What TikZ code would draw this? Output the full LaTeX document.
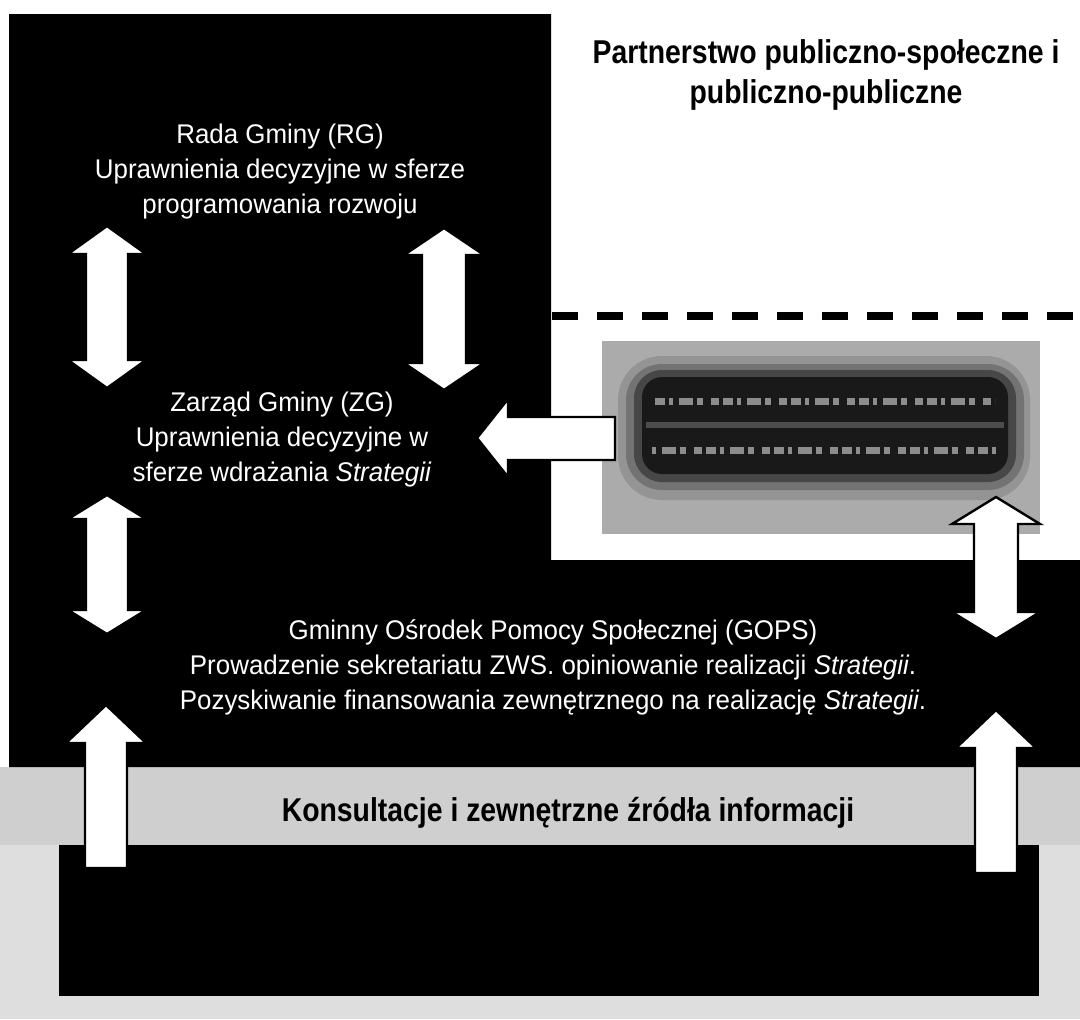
\documentclass[tikz,border=0pt]{standalone}
\usepackage{fontspec}
\setmainfont{Liberation Sans}
\newfontfamily\bodyfont[FakeStretch=0.96]{Liberation Sans}
\newfontfamily\headfont[FakeStretch=0.86]{Liberation Sans}

% vertical double block arrow: xc, ytop, ybot, head half-width, shaft half-width, head length
\newcommand\dblarrowV[6]{%
  \path[blockarrow] (#1,#2) -- ({#1+#4},{#2+#6}) -- ({#1+#5},{#2+#6}) -- ({#1+#5},{#3-#6})
    -- ({#1+#4},{#3-#6}) -- (#1,#3) -- ({#1-#4},{#3-#6}) -- ({#1-#5},{#3-#6})
    -- ({#1-#5},{#2+#6}) -- ({#1-#4},{#2+#6}) -- cycle;}
% upward block arrow: xc, ytip, ybottom, head half-width, shaft half-width, head length
\newcommand\upArrowV[6]{%
  \path[blockarrow] (#1,#2) -- ({#1+#4},{#2+#6}) -- ({#1+#5},{#2+#6}) -- ({#1+#5},#3)
    -- ({#1-#5},#3) -- ({#1-#5},{#2+#6}) -- ({#1-#4},{#2+#6}) -- cycle;}

\begin{document}
\begin{tikzpicture}[x=0.5pt,y=-0.5pt,
  bodytext/.style={text=white, align=center, inner sep=0pt,
    font=\bodyfont\fontsize{13.5}{17.5}\selectfont},
  headtext/.style={text=black, align=center, inner sep=0pt,
    font=\headfont\bfseries\fontsize{16.5}{20}\selectfont},
  blockarrow/.style={fill=white, draw=black, line width=1.2pt, line join=miter},
  darkfill/.style={fill=black},
  smudge/.style={draw=black!45, line width=3.5pt,
    dash pattern=on 5pt off 2pt on 2pt off 3pt on 7pt off 2pt on 3pt off 4pt on 4pt off 2pt},
]
\useasboundingbox (0,0) rectangle (1080,1019);
\fill[white] (0,0) rectangle (1080,1019);

% bottom scanned grey area and band
\fill[black!13] (0,767) rectangle (1080,1019);
\fill[black!19] (0,767) rectangle (1080,845);

% main black region
\path[darkfill] (9,14) -- (551,14) -- (551,560) -- (1080,560) -- (1080,767) -- (9,767) -- cycle;

% bottom black box
\path[darkfill] (59,845) rectangle (1039,996);

% grey box with blurred (illegible) text
\fill[black!33] (602,341) rectangle (1040,534);
\fill[black!42, rounded corners=22] (618,356) rectangle (1030,500);
\fill[black!55, rounded corners=18] (626,364) rectangle (1024,490);
\fill[black!72, rounded corners=14] (634,370) rectangle (1016,482);
\fill[black!90, rounded corners=10] (642,377) rectangle (1008,474);
\draw[smudge] (655,401) -- (995,401);
\draw[smudge, dash phase=6pt] (650,450) -- (1000,450);
\fill[black!70] (646,422) rectangle (1004,428);

% dashed separator
\draw[line width=4pt, dash pattern=on 13pt off 9.5pt] (552,316) -- (1080,316);

% block arrows
\dblarrowV{107}{226}{388}{39}{21}{28}
\dblarrowV{444}{228}{390}{40}{22}{27}
\dblarrowV{107}{495}{634}{39}{21}{24}
\dblarrowV{996}{497}{639}{44}{22}{27}
\upArrowV{106}{705}{868}{40}{21}{38}
\upArrowV{996}{710}{873}{40}{21}{38}
\path[blockarrow] (477,438) -- (508,399) -- (508,417) -- (615,417) -- (615,460)
  -- (508,460) -- (508,477) -- cycle;

% texts
\node[headtext] (title) at (826,75) {Partnerstwo publiczno-społeczne i\\publiczno-publiczne};
\node[bodytext] (rg) at (280,172) {Rada Gminy (RG)\\Uprawnienia decyzyjne w sferze\\programowania rozwoju};
\node[bodytext] (zg) at (282,440) {Zarząd Gminy (ZG)\\Uprawnienia decyzyjne w\\sferze wdrażania \textit{Strategii}};
\node[bodytext] (gops) at (553,667) {Gminny Ośrodek Pomocy Społecznej (GOPS)\\Prowadzenie sekretariatu ZWS. opiniowanie realizacji \textit{Strategii}.\\Pozyskiwanie finansowania zewnętrznego na realizację \textit{Strategii}.};
\node[headtext] (kons) at (568,813) {Konsultacje i zewnętrzne źródła informacji};
\end{tikzpicture}
\end{document}
